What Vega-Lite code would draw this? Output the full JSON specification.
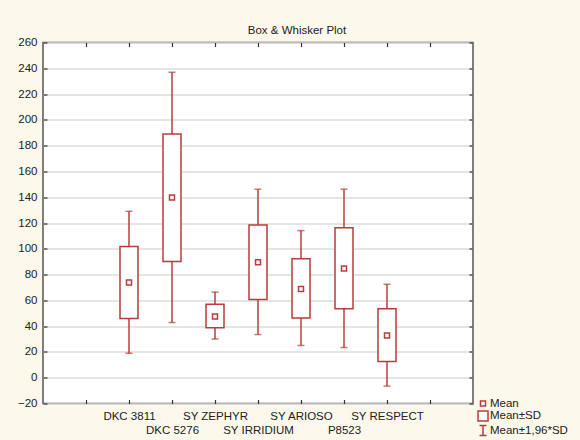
{
  "$schema": "https://vega.github.io/schema/vega-lite/v6.json",
  "width": 430,
  "height": 361,
  "autosize": "none",
  "padding": {"left": 43, "top": 42.5, "right": 107, "bottom": 36.5},
  "background": "#fcf8ec",
  "title": {"text": "Box & Whisker Plot", "fontSize": 11.5, "fontWeight": "normal", "font": "Liberation Sans", "color": "#222", "anchor": "middle", "dx": 39, "offset": 0},
  "config": {
    "view": {"fill": "white", "stroke": "#555", "strokeWidth": 1.5},
    "axis": {"labelFont": "Liberation Sans", "labelFontSize": 11.5, "labelColor": "#222", "title": null, "domain": false, "tickColor": "#333", "tickWidth": 1.2},
    "legend": {"labelFont": "Liberation Sans", "labelFontSize": 11.5, "labelColor": "#222"}
  },
  "data": {"values": [
    {"cat": "DKC 3811", "mean": 73.8, "sdLo": 45.9, "sdHi": 101.7, "lo": 19.0, "hi": 129.1},
    {"cat": "DKC 5276", "mean": 139.7, "sdLo": 90.1, "sdHi": 189.1, "lo": 42.8, "hi": 236.9},
    {"cat": "SY ZEPHYR", "mean": 47.5, "sdLo": 38.7, "sdHi": 57.0, "lo": 30.0, "hi": 66.4},
    {"cat": "SY IRRIDIUM", "mean": 89.6, "sdLo": 60.6, "sdHi": 118.5, "lo": 33.5, "hi": 146.2},
    {"cat": "SY ARIOSO", "mean": 68.9, "sdLo": 46.4, "sdHi": 92.2, "lo": 25.0, "hi": 114.1},
    {"cat": "P8523", "mean": 84.7, "sdLo": 53.4, "sdHi": 116.4, "lo": 23.4, "hi": 146.2},
    {"cat": "SY RESPECT", "mean": 32.7, "sdLo": 12.6, "sdHi": 53.4, "lo": -6.5, "hi": 72.5}
  ]},
  "layer": [
    {
      "mark": {"type": "rule", "color": "#b83c3c", "strokeWidth": 1.5},
      "encoding": {
        "x": {"field": "cat", "type": "nominal", "scale": {"type": "point", "domain": [" ", "DKC 3811", "DKC 5276", "SY ZEPHYR", "SY IRRIDIUM", "SY ARIOSO", "P8523", "SY RESPECT", "  "], "padding": 1},
          "axis": {"orient": "bottom", "tickSize": -4, "labelPadding": 11, "labelAngle": 0, "labelLineHeight": 13.5, "labelBaseline": "top",
            "labelExpr": "indexof(['DKC 5276','SY IRRIDIUM','P8523'], datum.value) >= 0 ? ['', datum.value] : datum.value"}},
        "y": {"field": "lo", "type": "quantitative", "scale": {"domain": [-20, 260], "nice": false, "zero": false},
          "axis": {"orient": "left", "values": [-20, 0, 20, 40, 60, 80, 100, 120, 140, 160, 180, 200, 220, 240, 260], "tickSize": -4, "labelPadding": 10, "grid": true, "gridColor": "#dcdcdc", "gridWidth": 1.5}},
        "y2": {"field": "hi"}
      }
    },
    {
      "mark": {"type": "tick", "color": "#b83c3c", "thickness": 1.5, "size": 7, "orient": "horizontal"},
      "encoding": {
        "x": {"field": "cat", "type": "nominal", "axis": {"orient": "top", "labels": false, "tickSize": -4}},
        "y": {"field": "lo", "type": "quantitative", "axis": {"orient": "right", "labels": false, "tickSize": -4, "grid": false, "values": [-20, 0, 20, 40, 60, 80, 100, 120, 140, 160, 180, 200, 220, 240, 260]}}
      }
    },
    {
      "mark": {"type": "tick", "color": "#b83c3c", "thickness": 1.5, "size": 7, "orient": "horizontal"},
      "encoding": {
        "x": {"field": "cat", "type": "nominal", "axis": null},
        "y": {"field": "hi", "type": "quantitative", "axis": null}
      }
    },
    {
      "mark": {"type": "bar", "width": 18, "fill": "white", "stroke": "#b83c3c", "strokeWidth": 1.5},
      "encoding": {
        "x": {"field": "cat", "type": "nominal", "axis": null},
        "y": {"field": "sdLo", "type": "quantitative", "axis": null},
        "y2": {"field": "sdHi"}
      }
    },
    {
      "mark": {"type": "point", "size": 100, "filled": true, "fill": "white", "stroke": "#b83c3c", "strokeWidth": 1.5, "opacity": 1},
      "encoding": {
        "x": {"field": "cat", "type": "nominal", "axis": null},
        "y": {"field": "mean", "type": "quantitative", "axis": null},
        "shape": {"datum": "Mean", "type": "nominal",
          "scale": {"domain": ["Mean", "Mean±SD", "Mean±1,96*SD"], "range": ["M-0.5,-0.5H0.5V0.5H-0.5Z", "M-1,-1H1V1H-1Z", "M-0.7,-1H0.7M0,-1V1M-0.7,1H0.7"]},
          "legend": {"title": null, "orient": "none", "legendX": 434, "legendY": 355, "symbolSize": 100, "rowPadding": -1.5, "labelOffset": 1, "padding": 0,
            "encode": {"symbols": {"update": {"stroke": {"value": "#b83c3c"}, "strokeWidth": {"value": 1.5}, "fill": {"value": "white"}, "opacity": {"value": 1}}}}}}
      }
    }
  ],
  "resolve": {"axis": {"x": "independent", "y": "independent"}}
}
